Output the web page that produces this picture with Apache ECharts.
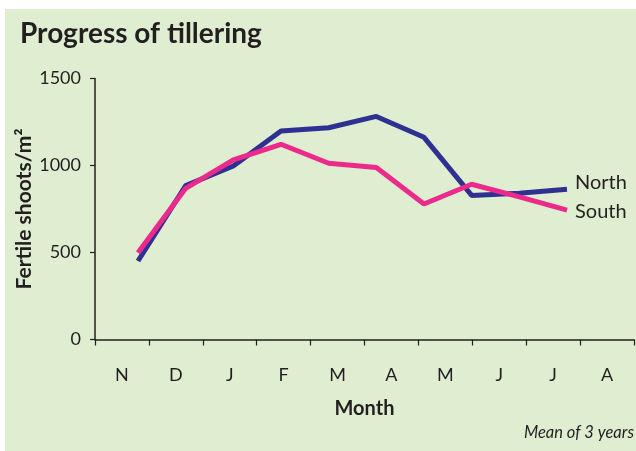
<!DOCTYPE html>
<html>
<head>
<meta charset="utf-8">
<style>
html, body { margin: 0; padding: 0; background: #fff; }
#main { width: 636px; height: 451px; }
</style>
<script src="https://cdn.jsdelivr.net/npm/echarts@6/dist/echarts.min.js"></script>
</head>
<body>
<div id="main"></div>
<script>
var months = ['N', 'D', 'J', 'F', 'M', 'A', 'M', 'J', 'J', 'A'];
var north = [451, 884, 997, 1198, 1217, 1282, 1162, 828, 840, 863];
var south = [499, 869, 1032, 1122, 1013, 988, 779, 892, 820, 744];
var yTicks = [0, 500, 1000, 1500];

var font = 'Lato, "Open Sans", sans-serif';
var ink = '#231f20';

var myChart = echarts.init(document.getElementById('main'));
var option = {
	animation : false,
	textStyle : { fontFamily : font },
	graphic : [ {
		type : 'rect',
		z : -10,
		shape : { x : 5, y : 9, width : 631, height : 442 },
		style : { fill : '#dfedd0' }
	}, {
		type : 'text',
		left : 20,
		top : 20,
		style : { text : 'Progress of tillering', font : 'bold 28px ' + font, fill : ink }
	}, {
		type : 'text',
		right : 2,
		top : 424,
		style : { text : 'Mean of 3 years', font : 'italic 16.5px ' + font, fill : ink }
	} ],
	grid : [ {
		left : 95, right : 2, top : 78.5, bottom : 111.5
	}, {
		// lines sit on their own month spacing inside the plot
		left : 138, width : 429, top : 78.5, bottom : 111.5
	} ],
	xAxis : [ {
		type : 'category',
		gridIndex : 0,
		data : months,
		boundaryGap : true,
		axisLine : { lineStyle : { color : ink, width : 1.5 } },
		axisTick : { show : true, length : 6, lineStyle : { color : ink, width : 1.2 } },
		axisLabel : { color : ink, fontSize : 18, margin : 27 },
		name : 'Month',
		nameLocation : 'middle',
		nameGap : 59,
		nameTextStyle : { color : ink, fontSize : 20, fontWeight : 'bold' }
	}, {
		type : 'category',
		gridIndex : 1,
		data : months,
		boundaryGap : false,
		show : false
	} ],
	yAxis : [ {
		type : 'value',
		gridIndex : 0,
		min : yTicks[0],
		max : yTicks[yTicks.length - 1],
		interval : 500,
		splitLine : { show : false },
		axisLine : { show : true, lineStyle : { color : ink, width : 1.5 } },
		axisTick : { show : true, length : 5, lineStyle : { color : ink, width : 1.2 } },
		axisLabel : { color : ink, fontSize : 18, margin : 14, formatter : function (v) { return String(v); } },
		name : 'Fertile shoots/m²',
		nameLocation : 'middle',
		nameGap : 60,
		nameMoveOverlap : false,
		nameTextStyle : { color : ink, fontSize : 21, fontWeight : 'bold' }
	}, {
		type : 'value',
		gridIndex : 1,
		min : yTicks[0],
		max : yTicks[yTicks.length - 1],
		show : false
	} ],
	series : [ {
		name : 'North',
		type : 'line',
		xAxisIndex : 1,
		yAxisIndex : 1,
		data : north,
		symbol : 'none',
		lineStyle : { color : '#2e3192', width : 5 },
		itemStyle : { color : '#2e3192' },
		endLabel : {
			show : true,
			formatter : '{a}',
			color : ink,
			fontSize : 20,
			distance : 8,
			offset : [ 0, -7 ]
		}
	}, {
		name : 'South',
		type : 'line',
		xAxisIndex : 1,
		yAxisIndex : 1,
		data : south,
		symbol : 'none',
		lineStyle : { color : '#ec2a8c', width : 5 },
		itemStyle : { color : '#ec2a8c' },
		endLabel : {
			show : true,
			formatter : '{a}',
			color : ink,
			fontSize : 20,
			distance : 8,
			offset : [ 0, 2 ]
		}
	} ]
};
myChart.setOption(option);
</script>
</body>
</html>
